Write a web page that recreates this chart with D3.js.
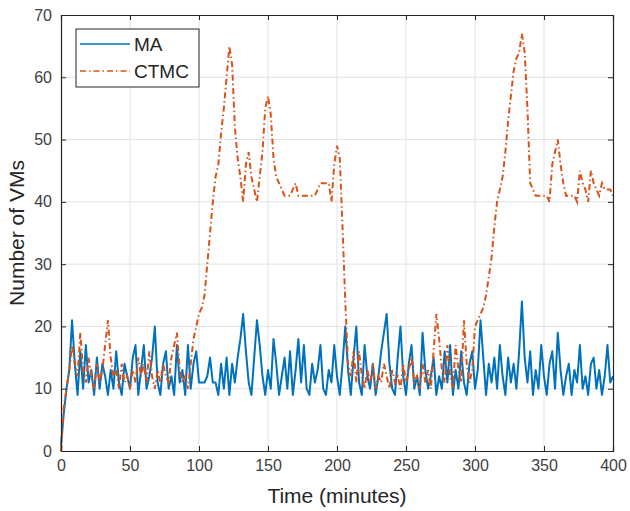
<!DOCTYPE html>
<html><head><meta charset="utf-8">
<script src="https://cdn.jsdelivr.net/npm/d3@7"></script>
<style>body{margin:0;background:#fff}svg{display:block}text{font-family:"Liberation Sans",Arial,sans-serif}</style>
</head><body>
<svg id="chart" width="630" height="511"></svg>
<script>
// time samples (minutes), every 2 minutes from 0 to 400
const times = d3.range(0, 401, 2);
const maValues = [
1,6,10,13,21,
14,9,16,10,17, 11,13,9,15,10, 14,12,9,13,10, 16,11,9,14,12,
10,15,17,9,13, 17,10,12,15,20, 11,9,14,16,10, 12,9,17,11,13,
9,17,10,14,16, 11,11,11,12,15, 11,11,9,14,10, 15,9,14,11,15,
18,22,16,11,9, 15,21,17,12,9, 13,10,18,14,9, 12,15,10,16,9,
13,18,11,17,10, 9,14,11,13,17, 10,9,13,11,17, 12,9,14,20,13,
9,15,20,11,9, 17,12,10,14,9, 12,16,19,22,14, 10,9,15,20,12,
9,14,17,10,12, 9,19,13,10,12, 15,9,12,10,16, 11,17,9,13,10,
16,11,9,14,16, 10,13,21,15,9, 14,11,15,10,17, 12,9,15,11,14,
10,16,24,15,11, 16,9,13,10,17, 12,9,14,16,10, 19,13,9,12,14,
9,13,11,17,10, 12,9,14,15,10, 13,9,12,17,11,
12];
const ctmcValues = [
0,7,10,13,17,
14,12,19,13,11, 15,12,10,14,11, 13,17,21,15,12, 13,10,14,11,12,
10,13,11,15,12, 14,11,16,12,10, 13,11,14,12,11, 15,17,19,13,11,
12,10,14,18,20, 22,23,25,30,35, 40,44,46,51,55, 60,65,62,52,47,
44,40,46,48,44, 42,40,44,48,55, 57,54,47,44,43, 42,41,41,41,42,
43,41,41,41,41, 41,41,41,42,43, 43,43,43,40,46, 49,47,36,24,14,
12,16,11,16,12, 10,13,11,14,10, 12,11,14,12,10, 13,11,12,10,14,
11,13,15,11,12, 10,14,11,13,10, 16,22,18,13,11, 17,12,10,17,13,
11,21,14,11,13, 20,21,22,23,25, 28,31,36,40,42, 44,48,53,57,61,
63,64,67,64,55, 43,42,41,41,41, 41,41,40,46,48, 50,46,43,41,41,
41,41,40,45,43, 42,40,45,43,42, 41,43,42,42,42,
41];
const xTicks = [0,50,100,150,200,250,300,350,400];
const yTicks = [0,10,20,30,40,50,60,70];
const seriesNames = ["MA","CTMC"];
const seriesColors = ["#0072BD","#D95319"];

const svg = d3.select("#chart");
const L = 61, R = 613, T = 15, B = 451;
const x = d3.scaleLinear().domain([0,400]).range([L,R]);
const y = d3.scaleLinear().domain([0,70]).range([B,T]);

// grid
const g = svg.append("g");
g.selectAll(".gx").data(xTicks.slice(1,-1)).join("line")
  .attr("x1",d=>x(d)).attr("x2",d=>x(d)).attr("y1",T).attr("y2",B)
  .attr("stroke","#e3e3e3").attr("stroke-width",1);
g.selectAll(".gy").data(yTicks.slice(1,-1)).join("line")
  .attr("x1",L).attr("x2",R).attr("y1",d=>y(d)).attr("y2",d=>y(d))
  .attr("stroke","#e3e3e3").attr("stroke-width",1);

// lines
const line = d3.line().x((d,i)=>x(times[i])).y(d=>y(d));
svg.append("path").datum(maValues).attr("d",line)
  .attr("fill","none").attr("stroke",seriesColors[0]).attr("stroke-width",2).attr("stroke-linejoin","round");
svg.append("path").datum(ctmcValues).attr("d",line)
  .attr("fill","none").attr("stroke",seriesColors[1]).attr("stroke-width",2)
  .attr("stroke-dasharray","6,3,1.5,3");

// axes
const axCol = "#262626", txtCol = "#404040";
const axBottom = svg.append("g").attr("transform",`translate(0,${B})`)
  .call(d3.axisBottom(x).tickValues(xTicks).tickSize(-5).tickPadding(9));
const axTop = svg.append("g").attr("transform",`translate(0,${T})`)
  .call(d3.axisTop(x).tickValues(xTicks).tickSize(-5).tickFormat(""));
const axLeft = svg.append("g").attr("transform",`translate(${L},0)`)
  .call(d3.axisLeft(y).tickValues(yTicks).tickSize(-5).tickPadding(9));
const axRight = svg.append("g").attr("transform",`translate(${R},0)`)
  .call(d3.axisRight(y).tickValues(yTicks).tickSize(-5).tickFormat(""));
[axBottom,axTop,axLeft,axRight].forEach(a=>{
  a.select(".domain").attr("stroke",axCol).attr("stroke-width",1.2);
  a.selectAll(".tick line").attr("stroke",axCol);
  a.selectAll(".tick text").attr("fill",txtCol).style("font-size","16px");
});

// axis labels
svg.append("text").attr("x",(L+R)/2).attr("y",503).attr("text-anchor","middle")
  .attr("fill","#262626").style("font-size","21px").text("Time (minutes)");
svg.append("text").attr("transform",`translate(24,${(T+B)/2}) rotate(-90)`).attr("text-anchor","middle")
  .attr("fill","#262626").style("font-size","21px").text("Number of VMs");

// legend
const lg = svg.append("g");
lg.append("rect").attr("x",76).attr("y",29).attr("width",123).attr("height",58)
  .attr("fill","#fff").attr("stroke",axCol).attr("stroke-width",1);
seriesNames.forEach((n,i)=>{
  const yy = 44 + i*27;
  lg.append("line").attr("x1",80).attr("x2",130).attr("y1",yy).attr("y2",yy)
    .attr("stroke",seriesColors[i]).attr("stroke-width",1.6)
    .attr("stroke-dasharray", i===1 ? "6,3,1.5,3" : null);
  lg.append("text").attr("x",134).attr("y",yy+7).attr("fill","#262626")
    .style("font-size","19px").text(n);
});
</script>
</body></html>
